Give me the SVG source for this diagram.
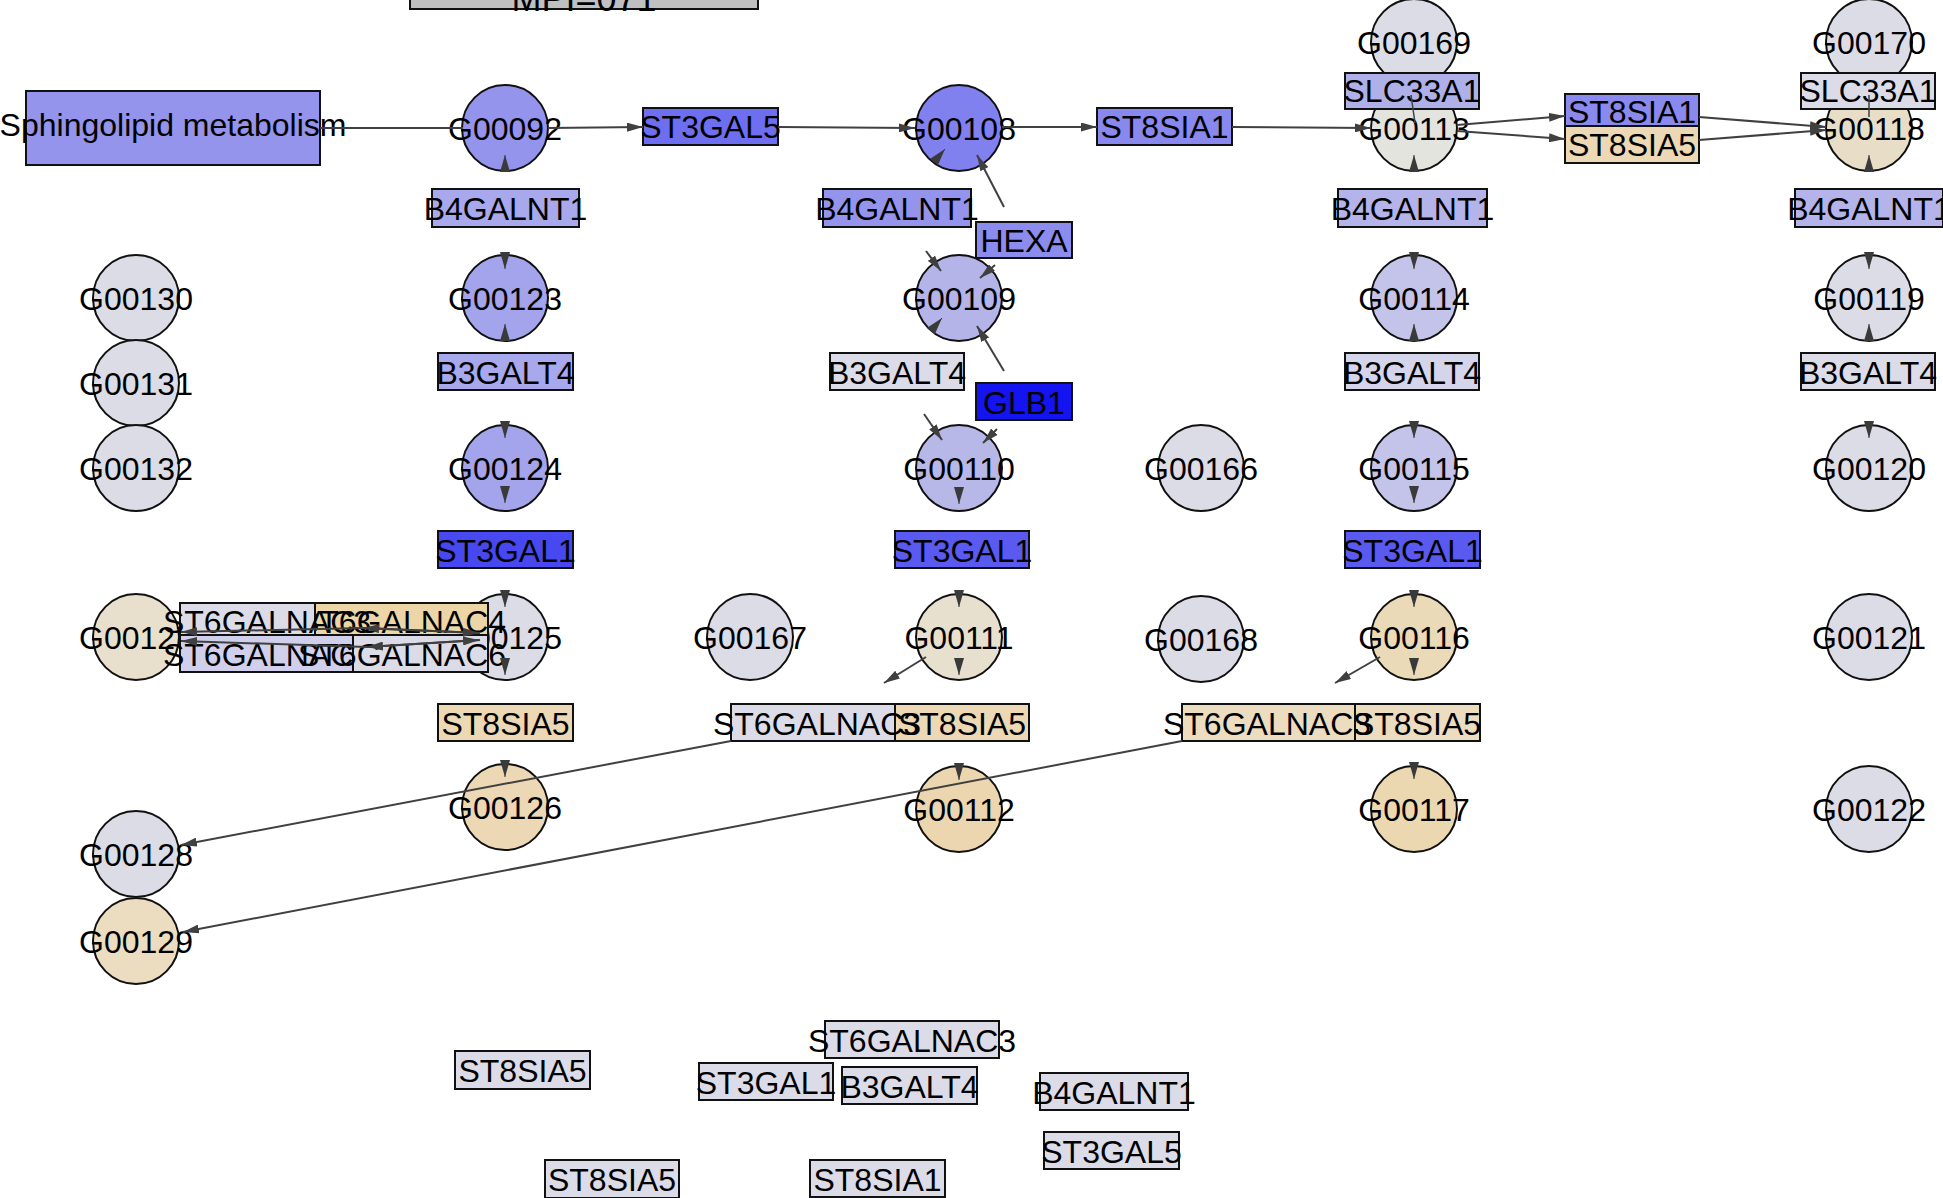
<svg xmlns="http://www.w3.org/2000/svg" width="1943" height="1198" viewBox="0 0 1943 1198">
<defs>
<style>
.n circle,.n rect{stroke:#111;stroke-width:2}
text{font-family:"Liberation Sans",Arial,sans-serif;font-size:32px;fill:#000;text-anchor:middle}
.e{stroke:#404040;stroke-width:2;fill:none;marker-end:url(#a)}
.l{stroke:#404040;stroke-width:2;fill:none}
.t{stroke:#404040;stroke-width:1.5;fill:none}
.h{stroke:#404040;stroke-width:1;fill:none;marker-end:url(#b)}
</style>
<marker id="a" viewBox="0 0 16 9" refX="16" refY="4.5" markerWidth="16" markerHeight="9" markerUnits="userSpaceOnUse" orient="auto"><path d="M0,0 L16,4.5 L0,9 z" fill="#404040"/></marker>
<marker id="b" viewBox="0 0 17 10" refX="17" refY="5" markerWidth="17" markerHeight="10" markerUnits="userSpaceOnUse" orient="auto"><path d="M0,0 L17,5 L0,10 z" fill="#3a3a3a"/></marker>
</defs>
<rect width="1943" height="1198" fill="#fff"/>
<g id="nodes">
<g id="mpi" class="n"><rect x="410" y="-40" width="348" height="49" fill="#C0C0C0"/><text x="584" y="11" style="font-size:36px">MPI=071</text></g>
<g id="sphingolipid" class="n"><rect x="26" y="91" width="294" height="74" fill="#9494EC"/><text x="173" y="136">Sphingolipid metabolism</text></g>
<g id="G00169" class="n"><circle cx="1414" cy="42" r="43" fill="#DCDCE6"/><text x="1414" y="54">G00169</text></g>
<g id="G00170" class="n"><circle cx="1869" cy="42" r="43" fill="#DCDCE6"/><text x="1869" y="54">G00170</text></g>
<g id="G00092" class="n"><circle cx="505" cy="128" r="43" fill="#9494EC"/><text x="505" y="140">G00092</text></g>
<g id="G00108" class="n"><circle cx="959" cy="128" r="43" fill="#8080EE"/><text x="959" y="140">G00108</text></g>
<g id="G00113" class="n"><circle cx="1414" cy="128" r="43" fill="#E4E4DE"/><text x="1414" y="140">G00113</text></g>
<g id="G00118" class="n"><circle cx="1869" cy="128" r="43" fill="#E8DEC8"/><text x="1869" y="140">G00118</text></g>
<g id="ST3GAL5_a" class="n"><rect x="643" y="108" width="135" height="37" fill="#6E6EF0"/><text x="710.5" y="138">ST3GAL5</text></g>
<g id="ST8SIA1_a" class="n"><rect x="1097" y="108" width="135" height="37" fill="#8888EE"/><text x="1164.5" y="138">ST8SIA1</text></g>
<g id="SLC33A1_a" class="n"><rect x="1345" y="73" width="134" height="36" fill="#B0B0E8"/><text x="1412" y="102">SLC33A1</text></g>
<g id="SLC33A1_b" class="n"><rect x="1801" y="73" width="134" height="36" fill="#DCDCE8"/><text x="1868" y="102">SLC33A1</text></g>
<g id="ST8SIA1_b" class="n"><rect x="1565" y="94" width="134" height="32" fill="#8A8AEE"/><text x="1632" y="123">ST8SIA1</text></g>
<g id="ST8SIA5_b" class="n"><rect x="1565" y="126" width="134" height="37" fill="#ECD8B4"/><text x="1632" y="156">ST8SIA5</text></g>
<g id="B4GALNT1_a" class="n"><rect x="432" y="189" width="147" height="38" fill="#A8A8EC"/><text x="505.5" y="220">B4GALNT1</text></g>
<g id="B4GALNT1_b" class="n"><rect x="823" y="189" width="148" height="38" fill="#9494EC"/><text x="897" y="220">B4GALNT1</text></g>
<g id="B4GALNT1_c" class="n"><rect x="1338" y="189" width="149" height="38" fill="#B4B4EA"/><text x="1412.5" y="220">B4GALNT1</text></g>
<g id="B4GALNT1_d" class="n"><rect x="1795" y="189" width="148" height="38" fill="#B4B4EA"/><text x="1869" y="220">B4GALNT1</text></g>
<g id="HEXA" class="n"><rect x="976" y="222" width="96" height="36" fill="#8C8CEE"/><text x="1024" y="252">HEXA</text></g>
<g id="G00130" class="n"><circle cx="136" cy="298" r="43" fill="#DCDCE6"/><text x="136" y="310">G00130</text></g>
<g id="G00123" class="n"><circle cx="505" cy="298" r="43" fill="#A4A4EC"/><text x="505" y="310">G00123</text></g>
<g id="G00109" class="n"><circle cx="959" cy="298" r="43" fill="#B4B4E8"/><text x="959" y="310">G00109</text></g>
<g id="G00114" class="n"><circle cx="1414" cy="298" r="43" fill="#C4C4EA"/><text x="1414" y="310">G00114</text></g>
<g id="G00119" class="n"><circle cx="1869" cy="298" r="43" fill="#DCDCE6"/><text x="1869" y="310">G00119</text></g>
<g id="G00131" class="n"><circle cx="136" cy="383" r="43" fill="#DCDCE6"/><text x="136" y="395">G00131</text></g>
<g id="B3GALT4_a" class="n"><rect x="438" y="353" width="135" height="37" fill="#A8A8EC"/><text x="505.5" y="384">B3GALT4</text></g>
<g id="B3GALT4_b" class="n"><rect x="830" y="353" width="134" height="37" fill="#DCDCE8"/><text x="897" y="384">B3GALT4</text></g>
<g id="B3GALT4_c" class="n"><rect x="1345" y="353" width="134" height="37" fill="#D4D4EA"/><text x="1412" y="384">B3GALT4</text></g>
<g id="B3GALT4_d" class="n"><rect x="1801" y="353" width="134" height="37" fill="#DCDCE8"/><text x="1868" y="384">B3GALT4</text></g>
<g id="GLB1" class="n"><rect x="976" y="383" width="96" height="37" fill="#1414F0"/><text x="1024" y="414">GLB1</text></g>
<g id="G00132" class="n"><circle cx="136" cy="468" r="43" fill="#DCDCE6"/><text x="136" y="480">G00132</text></g>
<g id="G00124" class="n"><circle cx="505" cy="468" r="43" fill="#A4A4EC"/><text x="505" y="480">G00124</text></g>
<g id="G00110" class="n"><circle cx="959" cy="468" r="43" fill="#B8B8E8"/><text x="959" y="480">G00110</text></g>
<g id="G00166" class="n"><circle cx="1201" cy="468" r="43" fill="#DCDCE6"/><text x="1201" y="480">G00166</text></g>
<g id="G00115" class="n"><circle cx="1414" cy="468" r="43" fill="#C4C4EA"/><text x="1414" y="480">G00115</text></g>
<g id="G00120" class="n"><circle cx="1869" cy="468" r="43" fill="#DCDCE6"/><text x="1869" y="480">G00120</text></g>
<g id="ST3GAL1_a" class="n"><rect x="438" y="531" width="135" height="37" fill="#4848F0"/><text x="505.5" y="562">ST3GAL1</text></g>
<g id="ST3GAL1_b" class="n"><rect x="895" y="531" width="134" height="37" fill="#5A5AF0"/><text x="962" y="562">ST3GAL1</text></g>
<g id="ST3GAL1_c" class="n"><rect x="1345" y="531" width="135" height="37" fill="#5A5AF0"/><text x="1412.5" y="562">ST3GAL1</text></g>
<g id="G00127" class="n"><circle cx="136" cy="637" r="43" fill="#E8E0CC"/><text x="136" y="649">G00127</text></g>
<g id="G00125" class="n"><circle cx="505" cy="637" r="43" fill="#DCDCE6"/><text x="505" y="649">G00125</text></g>
<g id="ST6GALNAC4" class="n"><rect x="315" y="603" width="173" height="32" fill="#ECD6A8"/><text x="402" y="633">ST6GALNAC4</text></g>
<g id="ST6GALNAC3_a" class="n"><rect x="180" y="603" width="135" height="32" fill="#DCDCE8"/><text x="267" y="633">ST6GALNAC3</text></g>
<g id="ST6GALNAC5" class="n"><rect x="180" y="635" width="173" height="37" fill="#D0D0EC"/><text x="267" y="666">ST6GALNAC5</text></g>
<g id="ST6GALNAC6" class="n"><rect x="353" y="635" width="135" height="37" fill="#DCDCE8"/><text x="402" y="666">ST6GALNAC6</text></g>
<g id="G00167" class="n"><circle cx="750" cy="637" r="43" fill="#DCDCE6"/><text x="750" y="649">G00167</text></g>
<g id="G00111" class="n"><circle cx="959" cy="637" r="43" fill="#E8E0CE"/><text x="959" y="649">G00111</text></g>
<g id="G00168" class="n"><circle cx="1201" cy="639" r="43" fill="#DCDCE6"/><text x="1201" y="651">G00168</text></g>
<g id="G00116" class="n"><circle cx="1414" cy="637" r="43" fill="#EADAB8"/><text x="1414" y="649">G00116</text></g>
<g id="G00121" class="n"><circle cx="1869" cy="637" r="43" fill="#DCDCE6"/><text x="1869" y="649">G00121</text></g>
<g id="ST8SIA5_a" class="n"><rect x="438" y="704" width="135" height="37" fill="#ECD8B4"/><text x="505.5" y="735">ST8SIA5</text></g>
<g id="ST8SIA5_c" class="n"><rect x="895" y="704" width="134" height="37" fill="#ECD8B4"/><text x="962" y="735">ST8SIA5</text></g>
<g id="ST6GALNAC3_c" class="n"><rect x="731" y="704" width="164" height="37" fill="#DCDCE8"/><text x="817" y="735">ST6GALNAC3</text></g>
<g id="ST8SIA5_d" class="n"><rect x="1355" y="704" width="125" height="37" fill="#ECDCC0"/><text x="1417" y="735">ST8SIA5</text></g>
<g id="ST6GALNAC3_d" class="n"><rect x="1182" y="704" width="173" height="37" fill="#ECDCC0"/><text x="1267" y="735">ST6GALNAC3</text></g>
<g id="G00126" class="n"><circle cx="505" cy="807" r="43" fill="#ECD8B4"/><text x="505" y="819">G00126</text></g>
<g id="G00112" class="n"><circle cx="959" cy="809" r="43" fill="#ECD6B0"/><text x="959" y="821">G00112</text></g>
<g id="G00117" class="n"><circle cx="1414" cy="809" r="43" fill="#ECD8B0"/><text x="1414" y="821">G00117</text></g>
<g id="G00122" class="n"><circle cx="1869" cy="809" r="43" fill="#DCDCE6"/><text x="1869" y="821">G00122</text></g>
<g id="G00128" class="n"><circle cx="136" cy="854" r="43" fill="#DCDCE6"/><text x="136" y="866">G00128</text></g>
<g id="G00129" class="n"><circle cx="136" cy="941" r="43" fill="#ECDCC0"/><text x="136" y="953">G00129</text></g>
<g id="ST6GALNAC3_l" class="n"><rect x="825" y="1021" width="174" height="37" fill="#DCDCE8"/><text x="912" y="1052">ST6GALNAC3</text></g>
<g id="ST8SIA5_l1" class="n"><rect x="455" y="1051" width="135" height="38" fill="#DCDCE8"/><text x="522.5" y="1082">ST8SIA5</text></g>
<g id="ST3GAL1_l" class="n"><rect x="699" y="1063" width="134" height="37" fill="#DCDCE8"/><text x="766" y="1094">ST3GAL1</text></g>
<g id="B3GALT4_l" class="n"><rect x="842" y="1067" width="135" height="37" fill="#DCDCE8"/><text x="909.5" y="1098">B3GALT4</text></g>
<g id="B4GALNT1_l" class="n"><rect x="1040" y="1073" width="148" height="37" fill="#DCDCE8"/><text x="1114" y="1104">B4GALNT1</text></g>
<g id="ST3GAL5_l" class="n"><rect x="1044" y="1132" width="135" height="37" fill="#DCDCE8"/><text x="1111.5" y="1163">ST3GAL5</text></g>
<g id="ST8SIA5_l2" class="n"><rect x="545" y="1160" width="134" height="38" fill="#DCDCE8"/><text x="612" y="1191">ST8SIA5</text></g>
<g id="ST8SIA1_l" class="n"><rect x="810" y="1160" width="135" height="37" fill="#DCDCE8"/><text x="877.5" y="1191">ST8SIA1</text></g>
</g>
<g id="connectors">
<path class="l" d="M320,128 L463,128"/>
<path class="e" d="M548,128 L643,127"/>
<path class="e" d="M778,127 L915,128"/>
<path class="e" d="M1002,127 L1097,127"/>
<path class="e" d="M1232,127 L1371,128"/>
<path class="e" d="M1457,125 L1565,116"/>
<path class="e" d="M1457,131 L1565,139"/>
<path class="e" d="M1699,117 L1826,127"/>
<path class="e" d="M1699,140 L1826,130"/>
<path class="t" d="M1411,95 L1415,123"/>
<path class="t" d="M1869,95 L1869,117"/>
<path class="h" d="M505,172 L505,155"/>
<path class="h" d="M505,252 L505,269"/>
<path class="h" d="M505,341 L505,324"/>
<path class="h" d="M505,421 L505,438"/>
<path class="h" d="M505,486 L505,503"/>
<path class="h" d="M505,590 L505,607"/>
<path class="h" d="M505,658 L505,675"/>
<path class="h" d="M505,760 L505,777"/>
<path class="h" d="M959,487 L959,504"/>
<path class="h" d="M959,590 L959,607"/>
<path class="h" d="M959,658 L959,675"/>
<path class="h" d="M959,763 L959,780"/>
<path class="h" d="M1414,172 L1414,155"/>
<path class="h" d="M1414,252 L1414,269"/>
<path class="h" d="M1414,341 L1414,324"/>
<path class="h" d="M1414,421 L1414,438"/>
<path class="h" d="M1414,486 L1414,503"/>
<path class="h" d="M1414,590 L1414,607"/>
<path class="h" d="M1414,658 L1414,675"/>
<path class="h" d="M1414,762 L1414,779"/>
<path class="h" d="M1869,172 L1869,155"/>
<path class="h" d="M1869,252 L1869,269"/>
<path class="h" d="M1869,341 L1869,324"/>
<path class="h" d="M1869,421 L1869,438"/>
<path class="h" d="M934,162 L945,149"/>
<path class="e" d="M1004,207 L977,155"/>
<path class="e" d="M926,251 L941,271"/>
<path class="e" d="M995,265 L980,278"/>
<path class="h" d="M931,331 L942,318"/>
<path class="e" d="M1004,371 L977,326"/>
<path class="e" d="M924,414 L942,440"/>
<path class="e" d="M997,429 L983,443"/>
<path class="e" d="M926,657 L884,683"/>
<path class="e" d="M1380,657 L1335,683"/>
<path class="e" d="M731,741 L181,845"/>
<path class="e" d="M1182,741 L183,932"/>
<path class="e" d="M480,633 L363,628"/>
<path class="e" d="M363,628 L181,632"/>
<path class="e" d="M363,628 L479,633"/>
<path class="e" d="M480,640 L367,647"/>
<path class="e" d="M367,647 L181,641"/>
<path class="e" d="M367,647 L479,640"/>
</g>
</svg>
